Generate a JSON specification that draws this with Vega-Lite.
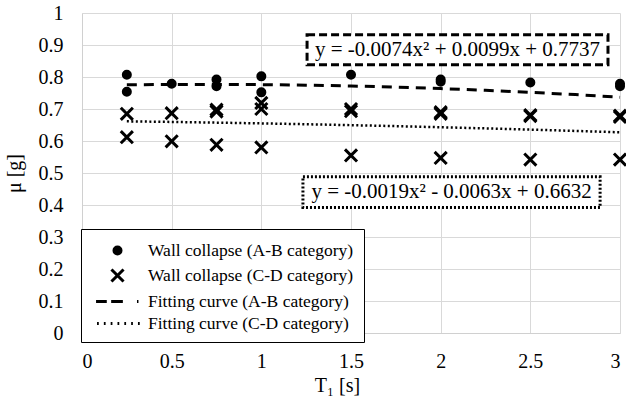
{
  "$schema": "https://vega.github.io/schema/vega-lite/v6.json",
  "width": 538,
  "height": 320,
  "autosize": {"type": "none"},
  "padding": {"left": 82, "top": 13, "right": 6, "bottom": 72},
  "background": "white",
  "config": {
    "view": {"stroke": null},
    "font": "Liberation Serif",
    "axis": {
      "labelFont": "Liberation Serif",
      "titleFont": "Liberation Serif",
      "labelFontSize": 20,
      "titleFontSize": 20,
      "titleFontWeight": "normal",
      "labelColor": "black",
      "titleColor": "black",
      "gridColor": "#d9d9d9",
      "gridWidth": 1,
      "domainColor": "#d0d0d0",
      "ticks": false,
      "labelOverlap": false
    }
  },
  "datasets": {
    "points": [
      {"T": 0.25, "mu": 0.807, "series": "Wall collapse (A-B category)"},
      {"T": 0.25, "mu": 0.754, "series": "Wall collapse (A-B category)"},
      {"T": 0.5, "mu": 0.779, "series": "Wall collapse (A-B category)"},
      {"T": 0.75, "mu": 0.792, "series": "Wall collapse (A-B category)"},
      {"T": 0.75, "mu": 0.771, "series": "Wall collapse (A-B category)"},
      {"T": 1.0, "mu": 0.802, "series": "Wall collapse (A-B category)"},
      {"T": 1.0, "mu": 0.752, "series": "Wall collapse (A-B category)"},
      {"T": 1.5, "mu": 0.807, "series": "Wall collapse (A-B category)"},
      {"T": 2.0, "mu": 0.792, "series": "Wall collapse (A-B category)"},
      {"T": 2.0, "mu": 0.785, "series": "Wall collapse (A-B category)"},
      {"T": 2.5, "mu": 0.783, "series": "Wall collapse (A-B category)"},
      {"T": 3.0, "mu": 0.779, "series": "Wall collapse (A-B category)"},
      {"T": 3.0, "mu": 0.771, "series": "Wall collapse (A-B category)"},
      {"T": 0.25, "mu": 0.685, "series": "Wall collapse (C-D category)"},
      {"T": 0.25, "mu": 0.612, "series": "Wall collapse (C-D category)"},
      {"T": 0.5, "mu": 0.687, "series": "Wall collapse (C-D category)"},
      {"T": 0.5, "mu": 0.599, "series": "Wall collapse (C-D category)"},
      {"T": 0.75, "mu": 0.698, "series": "Wall collapse (C-D category)"},
      {"T": 0.75, "mu": 0.692, "series": "Wall collapse (C-D category)"},
      {"T": 0.75, "mu": 0.588, "series": "Wall collapse (C-D category)"},
      {"T": 1.0, "mu": 0.719, "series": "Wall collapse (C-D category)"},
      {"T": 1.0, "mu": 0.700, "series": "Wall collapse (C-D category)"},
      {"T": 1.0, "mu": 0.580, "series": "Wall collapse (C-D category)"},
      {"T": 1.5, "mu": 0.700, "series": "Wall collapse (C-D category)"},
      {"T": 1.5, "mu": 0.693, "series": "Wall collapse (C-D category)"},
      {"T": 1.5, "mu": 0.555, "series": "Wall collapse (C-D category)"},
      {"T": 2.0, "mu": 0.690, "series": "Wall collapse (C-D category)"},
      {"T": 2.0, "mu": 0.685, "series": "Wall collapse (C-D category)"},
      {"T": 2.0, "mu": 0.547, "series": "Wall collapse (C-D category)"},
      {"T": 2.5, "mu": 0.681, "series": "Wall collapse (C-D category)"},
      {"T": 2.5, "mu": 0.678, "series": "Wall collapse (C-D category)"},
      {"T": 2.5, "mu": 0.542, "series": "Wall collapse (C-D category)"},
      {"T": 3.0, "mu": 0.679, "series": "Wall collapse (C-D category)"},
      {"T": 3.0, "mu": 0.675, "series": "Wall collapse (C-D category)"},
      {"T": 3.0, "mu": 0.542, "series": "Wall collapse (C-D category)"}
    ],
    "curves": [
      {"T": 0.25, "mu": 0.7757, "series": "A-B"},
      {"T": 0.5, "mu": 0.7768, "series": "A-B"},
      {"T": 0.75, "mu": 0.7770, "series": "A-B"},
      {"T": 1.0, "mu": 0.7762, "series": "A-B"},
      {"T": 1.25, "mu": 0.7745, "series": "A-B"},
      {"T": 1.5, "mu": 0.7719, "series": "A-B"},
      {"T": 1.75, "mu": 0.7684, "series": "A-B"},
      {"T": 2.0, "mu": 0.7639, "series": "A-B"},
      {"T": 2.25, "mu": 0.7585, "series": "A-B"},
      {"T": 2.5, "mu": 0.7522, "series": "A-B"},
      {"T": 2.75, "mu": 0.7450, "series": "A-B"},
      {"T": 3.0, "mu": 0.7368, "series": "A-B"},
      {"T": 0.25, "mu": 0.6615, "series": "C-D"},
      {"T": 0.5, "mu": 0.6596, "series": "C-D"},
      {"T": 0.75, "mu": 0.6574, "series": "C-D"},
      {"T": 1.0, "mu": 0.6550, "series": "C-D"},
      {"T": 1.25, "mu": 0.6524, "series": "C-D"},
      {"T": 1.5, "mu": 0.6495, "series": "C-D"},
      {"T": 1.75, "mu": 0.6464, "series": "C-D"},
      {"T": 2.0, "mu": 0.6430, "series": "C-D"},
      {"T": 2.25, "mu": 0.6394, "series": "C-D"},
      {"T": 2.5, "mu": 0.6356, "series": "C-D"},
      {"T": 2.75, "mu": 0.6315, "series": "C-D"},
      {"T": 3.0, "mu": 0.6272, "series": "C-D"}
    ],
    "boxes": [
      {"label": "y = -0.0074x² + 0.0099x + 0.7737", "style": "dash"},
      {"label": "y = -0.0019x² - 0.0063x + 0.6632", "style": "dot"}
    ]
  },
  "layer": [
    {
      "data": {"name": "curves"},
      "transform": [{"filter": "datum.series === 'A-B'"}],
      "mark": {"type": "line", "color": "black", "strokeWidth": 3, "strokeDash": [10, 7]},
      "encoding": {
        "x": {
          "field": "T", "type": "quantitative",
          "scale": {"domain": [0, 3], "nice": false},
          "axis": {"title": "T₁ [s]", "values": [0, 0.5, 1, 1.5, 2, 2.5, 3], "format": "~g", "labelPadding": 18, "titlePadding": 4, "titleX": 255, "grid": true}
        },
        "y": {
          "field": "mu", "type": "quantitative",
          "scale": {"domain": [0, 1], "nice": false},
          "axis": {"title": "μ [g]", "values": [0, 0.1, 0.2, 0.3, 0.4, 0.5, 0.6, 0.7, 0.8, 0.9, 1], "format": "~g", "labelPadding": 19, "titlePadding": 14, "grid": true}
        }
      }
    },
    {
      "data": {"name": "curves"},
      "transform": [{"filter": "datum.series === 'C-D'"}],
      "mark": {"type": "line", "color": "black", "strokeWidth": 2.5, "strokeDash": [2, 2.5]},
      "encoding": {
        "x": {
          "field": "T", "type": "quantitative",
          "scale": {"domain": [0, 3], "nice": false},
          "axis": {"title": "T₁ [s]", "values": [0, 0.5, 1, 1.5, 2, 2.5, 3], "format": "~g", "labelPadding": 18, "titlePadding": 4, "titleX": 255, "grid": true}
        },
        "y": {
          "field": "mu", "type": "quantitative",
          "scale": {"domain": [0, 1], "nice": false},
          "axis": {"title": "μ [g]", "values": [0, 0.1, 0.2, 0.3, 0.4, 0.5, 0.6, 0.7, 0.8, 0.9, 1], "format": "~g", "labelPadding": 19, "titlePadding": 14, "grid": true}
        }
      }
    },
    {
      "data": {"name": "points"},
      "mark": {"type": "point", "filled": true, "fill": "black", "stroke": "black", "strokeWidth": 3, "size": 380, "opacity": 1},
      "encoding": {
        "x": {
          "field": "T", "type": "quantitative",
          "scale": {"domain": [0, 3], "nice": false},
          "axis": {"title": "T₁ [s]", "values": [0, 0.5, 1, 1.5, 2, 2.5, 3], "format": "~g", "labelPadding": 18, "titlePadding": 4, "titleX": 255, "grid": true}
        },
        "y": {
          "field": "mu", "type": "quantitative",
          "scale": {"domain": [0, 1], "nice": false},
          "axis": {"title": "μ [g]", "values": [0, 0.1, 0.2, 0.3, 0.4, 0.5, 0.6, 0.7, 0.8, 0.9, 1], "format": "~g", "labelPadding": 19, "titlePadding": 14, "grid": true}
        },
        "shape": {
          "field": "series", "type": "nominal",
          "scale": {
            "domain": ["Wall collapse (A-B category)", "Wall collapse (C-D category)", "Fitting curve (A-B category)", "Fitting curve (C-D category)"],
            "range": [
              "M-0.36,0A0.36,0.36 0 1,0 0.36,0A0.36,0.36 0 1,0 -0.36,0Z",
              "M-0.62,-0.62L0.62,0.62M-0.62,0.62L0.62,-0.62",
              "M-2.2,0H-1.1M-0.65,0H0.55M2.0,0H2.15",
              "M-2.1,0h0.18M-1.4,0h0.18M-0.7,0h0.18M0,0h0.18M0.7,0h0.18M1.4,0h0.18M2.1,0h0.18"
            ]
          },
          "legend": {
            "title": null,
            "orient": "none",
            "legendX": -1,
            "legendY": 216,
            "strokeColor": "black",
            "fillColor": "white",
            "padding": 10,
            "labelFont": "Liberation Serif",
            "labelFontSize": 17.5,
            "labelColor": "black",
            "labelLimit": 400,
            "symbolSize": 380,
            "symbolOffset": 15,
            "symbolStrokeWidth": 3,
            "rowPadding": 2,
            "labelOffset": 19,
            "encode": {
              "symbols": {
                "update": {
                  "fill": {"value": "black"},
                  "stroke": {"value": "black"},
                  "opacity": {"value": 1},
                  "strokeWidth": {"value": 3}
                }
              }
            }
          }
        }
      }
    },
    {
      "data": {"name": "boxes"},
      "transform": [{"filter": "datum.style === 'dash'"}],
      "layer": [
        {
          "mark": {"type": "rect", "fill": "white", "stroke": "black", "strokeWidth": 3, "strokeDash": [8, 4]},
          "encoding": {
            "x": {"datum": 1.255, "type": "quantitative", "scale": {"domain": [0, 3], "nice": false}, "axis": {"title": "T₁ [s]", "values": [0, 0.5, 1, 1.5, 2, 2.5, 3], "format": "~g", "labelPadding": 18, "titlePadding": 4, "titleX": 255, "grid": true}},
            "x2": {"datum": 2.933},
            "y": {"datum": 0.932, "type": "quantitative", "scale": {"domain": [0, 1], "nice": false}, "axis": {"title": "μ [g]", "values": [0, 0.1, 0.2, 0.3, 0.4, 0.5, 0.6, 0.7, 0.8, 0.9, 1], "format": "~g", "labelPadding": 19, "titlePadding": 14, "grid": true}},
            "y2": {"datum": 0.838}
          }
        },
        {
          "mark": {"type": "text", "fontSize": 21, "font": "Liberation Serif", "color": "black", "align": "center", "baseline": "middle"},
          "encoding": {
            "x": {"datum": 2.094, "type": "quantitative", "scale": {"domain": [0, 3], "nice": false}, "axis": {"title": "T₁ [s]", "values": [0, 0.5, 1, 1.5, 2, 2.5, 3], "format": "~g", "labelPadding": 18, "titlePadding": 4, "titleX": 255, "grid": true}},
            "y": {"datum": 0.885, "type": "quantitative", "scale": {"domain": [0, 1], "nice": false}, "axis": {"title": "μ [g]", "values": [0, 0.1, 0.2, 0.3, 0.4, 0.5, 0.6, 0.7, 0.8, 0.9, 1], "format": "~g", "labelPadding": 19, "titlePadding": 14, "grid": true}},
            "text": {"field": "label"}
          }
        }
      ]
    },
    {
      "data": {"name": "boxes"},
      "transform": [{"filter": "datum.style === 'dot'"}],
      "layer": [
        {
          "mark": {"type": "rect", "fill": "white", "stroke": "black", "strokeWidth": 3, "strokeDash": [2, 2]},
          "encoding": {
            "x": {"datum": 1.232, "type": "quantitative", "scale": {"domain": [0, 3], "nice": false}, "axis": {"title": "T₁ [s]", "values": [0, 0.5, 1, 1.5, 2, 2.5, 3], "format": "~g", "labelPadding": 18, "titlePadding": 4, "titleX": 255, "grid": true}},
            "x2": {"datum": 2.889},
            "y": {"datum": 0.488, "type": "quantitative", "scale": {"domain": [0, 1], "nice": false}, "axis": {"title": "μ [g]", "values": [0, 0.1, 0.2, 0.3, 0.4, 0.5, 0.6, 0.7, 0.8, 0.9, 1], "format": "~g", "labelPadding": 19, "titlePadding": 14, "grid": true}},
            "y2": {"datum": 0.392}
          }
        },
        {
          "mark": {"type": "text", "fontSize": 21, "font": "Liberation Serif", "color": "black", "align": "center", "baseline": "middle"},
          "encoding": {
            "x": {"datum": 2.061, "type": "quantitative", "scale": {"domain": [0, 3], "nice": false}, "axis": {"title": "T₁ [s]", "values": [0, 0.5, 1, 1.5, 2, 2.5, 3], "format": "~g", "labelPadding": 18, "titlePadding": 4, "titleX": 255, "grid": true}},
            "y": {"datum": 0.44, "type": "quantitative", "scale": {"domain": [0, 1], "nice": false}, "axis": {"title": "μ [g]", "values": [0, 0.1, 0.2, 0.3, 0.4, 0.5, 0.6, 0.7, 0.8, 0.9, 1], "format": "~g", "labelPadding": 19, "titlePadding": 14, "grid": true}},
            "text": {"field": "label"}
          }
        }
      ]
    }
  ]
}
